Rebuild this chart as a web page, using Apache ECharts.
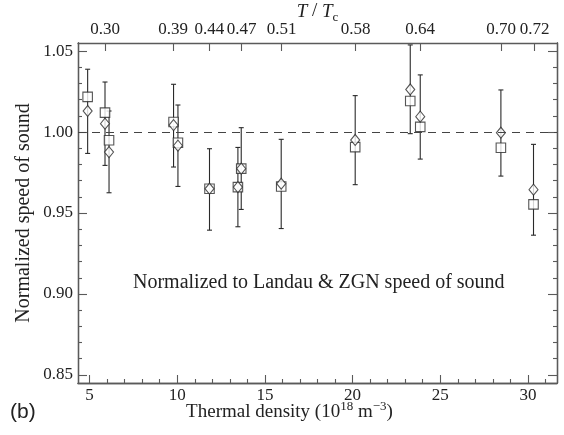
<!DOCTYPE html>
<html>
<head>
<meta charset="utf-8">
<script src="https://cdn.jsdelivr.net/npm/echarts@6/dist/echarts.min.js"></script>
<style>
  html, body { margin: 0; padding: 0; background: #fff; }
  #chart { width: 564px; height: 435px; }
</style>
</head>
<body>
<div id="chart"></div>
<script>
  // thermal density (10^18 m^-3) of each measurement
  var density = [4.89, 5.88, 6.11, 9.79, 10.04, 11.84, 13.46, 13.65, 15.93, 20.15, 23.29, 23.86, 28.46, 30.32];
  // squares and diamonds, normalized speed of sound
  var squares = [1.0217, 1.012, 0.9949, 1.0062, 0.9934, 0.965, 0.966, 0.9774, 0.9664, 0.9907, 1.0192, 1.0032, 0.9903, 0.9553];
  var diamonds = [1.013, 1.0052, 0.9876, 1.0043, 0.9916, 0.965, 0.966, 0.9774, 0.9681, 0.9951, 1.0263, 1.0095, 0.9996, 0.9644];
  // error bars
  var errLow = [0.9868, 0.9794, 0.9625, 0.9784, 0.9664, 0.9394, 0.9415, 0.9522, 0.9404, 0.9675, 0.999, 0.9833, 0.9728, 0.9363];
  var errHigh = [1.0388, 1.0309, 1.013, 1.0295, 1.0167, 0.9897, 0.9905, 1.0027, 0.9955, 1.0225, 1.0538, 1.0353, 1.026, 0.9924];
  // top axis T/Tc
  var ttPos = [5.88, 9.77, 11.84, 13.67, 15.95, 20.17, 23.86, 28.47, 30.38];
  var ttLabels = ['0.30', '0.39', '0.44', '0.47', '0.51', '0.58', '0.64', '0.70', '0.72'];
  // ticks
  var xMajor = [5, 10, 15, 20, 25, 30];
  var xMinor = [6, 7, 8, 9, 11, 12, 13, 14, 16, 17, 18, 19, 21, 22, 23, 24, 26, 27, 28, 29, 31];
  var yMajor = [0.85, 0.90, 0.95, 1.00, 1.05];
  var yMinor = [0.86, 0.87, 0.88, 0.89, 0.91, 0.92, 0.93, 0.94, 0.96, 0.97, 0.98, 0.99, 1.01, 1.02, 1.03, 1.04];

  var XMIN = 4.34, XMAX = 31.66, YMIN = 0.845, YMAX = 1.055;
  var serif = '"Liberation Serif", "DejaVu Serif", serif';
  var axisColor = '#5a5a5a';
  var inkColor = '#222';

  var chart = echarts.init(document.getElementById('chart'));

  function xAx(pos, ticks, len, labels, extra) {
    var a = {
      type: 'value', position: pos, min: XMIN, max: XMAX,
      axisLine: { show: true, onZero: false, lineStyle: { color: axisColor, width: 1.3 } },
      axisTick: { show: true, inside: true, length: len, customValues: ticks, lineStyle: { color: axisColor, width: 1.1 } },
      axisLabel: labels ? {
        show: true, customValues: ticks, margin: 4,
        fontFamily: serif, fontSize: 17, color: inkColor
      } : { show: false },
      splitLine: { show: false }
    };
    return Object.assign(a, extra || {});
  }

  function yAx(pos, ticks, len, labels) {
    return {
      type: 'value', position: pos, min: YMIN, max: YMAX,
      axisLine: { show: true, onZero: false, lineStyle: { color: axisColor, width: 1.3 } },
      axisTick: { show: true, inside: true, length: len, customValues: ticks, lineStyle: { color: axisColor, width: 1.1 } },
      axisLabel: labels ? {
        show: true, customValues: ticks, margin: 5,
        fontFamily: serif, fontSize: 17, color: inkColor,
        formatter: function (v) { return v.toFixed(2); }
      } : { show: false },
      splitLine: { show: false }
    };
  }

  var xAxes = [
    xAx('bottom', xMajor, 8, true, {
      name: '{n|Thermal density (10}{s|18}{n| m}{s|\u22123}{n|)}',
      nameLocation: 'middle', nameGap: 17, nameMoveOverlap: false,
      nameTextStyle: {
        padding: [0, 56, 0, 0],
        rich: {
          n: { fontFamily: serif, fontSize: 19, color: inkColor, lineHeight: 22, verticalAlign: 'bottom' },
          s: { fontFamily: serif, fontSize: 13, color: inkColor, lineHeight: 16, verticalAlign: 'top' }
        }
      }
    }),
    xAx('bottom', xMinor, 4, false),
    xAx('top', ttPos, 8, false, {
      name: '{i|T}{n| / }{i|T}{b|c}',
      nameLocation: 'middle', nameGap: 19, nameMoveOverlap: false,
      nameTextStyle: {
        rich: {
          i: { fontFamily: serif, fontStyle: 'italic', fontSize: 19, color: inkColor, lineHeight: 22, verticalAlign: 'top' },
          n: { fontFamily: serif, fontSize: 19, color: inkColor, lineHeight: 22, verticalAlign: 'top' },
          b: { fontFamily: serif, fontSize: 13, color: inkColor, lineHeight: 16, verticalAlign: 'bottom' }
        }
      }
    })
  ];
  xAxes[2].axisLabel = {
    show: true, customValues: ttPos, margin: 5,
    fontFamily: serif, fontSize: 17, color: inkColor,
    formatter: function (v) {
      for (var i = 0; i < ttPos.length; i++) {
        if (Math.abs(ttPos[i] - v) < 1e-6) return ttLabels[i];
      }
      return '';
    }
  };

  var yAxes = [
    yAx('left', yMajor, 9, true),
    yAx('left', yMinor, 4, false),
    yAx('right', yMajor, 9, false),
    yAx('right', yMinor, 4, false)
  ];
  yAxes[0].name = 'Normalized speed of sound';
  yAxes[0].nameLocation = 'middle';
  yAxes[0].nameGap = 44;
  yAxes[0].nameMoveOverlap = false;
  yAxes[0].nameTextStyle = { fontFamily: serif, fontSize: 20, color: inkColor };

  var errData = density.map(function (x, i) { return [x, errLow[i], errHigh[i]]; });
  var sqData = density.map(function (x, i) { return [x, squares[i]]; });
  var diaData = density.map(function (x, i) { return [x, diamonds[i]]; });

  chart.setOption({
    animation: false,
    backgroundColor: '#fff',
    grid: { left: 78, right: 7, top: 43, bottom: 52, outerBoundsMode: 'none' },
    xAxis: xAxes,
    yAxis: yAxes,
    graphic: [
      {
        type: 'text', left: 10, top: 402,
        style: { text: '(b)', font: '21px "Liberation Sans", Arial, sans-serif', fill: inkColor }
      },
      {
        type: 'text', left: 133, top: 273,
        style: { text: 'Normalized to Landau & ZGN speed of sound', font: '20px ' + serif, fill: inkColor }
      }
    ],
    series: [
      {
        type: 'custom',
        xAxisIndex: 0, yAxisIndex: 0,
        data: errData,
        encode: { x: 0, y: [1, 2] },
        z: 2,
        renderItem: function (params, api) {
          var x = api.value(0);
          var lo = api.coord([x, api.value(1)]);
          var hi = api.coord([x, api.value(2)]);
          var cap = 2.5;
          var st = { stroke: '#2a2a2a', lineWidth: 1.1 };
          return {
            type: 'group',
            children: [
              { type: 'line', shape: { x1: lo[0], y1: lo[1], x2: hi[0], y2: hi[1] }, style: st },
              { type: 'line', shape: { x1: lo[0] - cap, y1: lo[1], x2: lo[0] + cap, y2: lo[1] }, style: st },
              { type: 'line', shape: { x1: hi[0] - cap, y1: hi[1], x2: hi[0] + cap, y2: hi[1] }, style: st }
            ]
          };
        }
      },
      {
        type: 'scatter',
        xAxisIndex: 0, yAxisIndex: 0,
        data: sqData,
        symbol: 'rect',
        symbolSize: 9.5,
        z: 3,
        itemStyle: { color: '#fff', borderColor: '#2a2a2a', borderWidth: 1.1 },
        markLine: {
          silent: true,
          symbol: 'none',
          label: { show: false },
          lineStyle: { color: '#444', width: 1.2, type: [8, 6] },
          data: [{ yAxis: 1.0 }]
        }
      },
      {
        type: 'scatter',
        xAxisIndex: 0, yAxisIndex: 0,
        data: diaData,
        symbol: 'diamond',
        symbolSize: [9, 11],
        z: 4,
        itemStyle: { color: '#fff', borderColor: '#2a2a2a', borderWidth: 1.1 }
      }
    ]
  });

  window.addEventListener('resize', function () {
    chart.resize();
  });
</script>
</body>
</html>
